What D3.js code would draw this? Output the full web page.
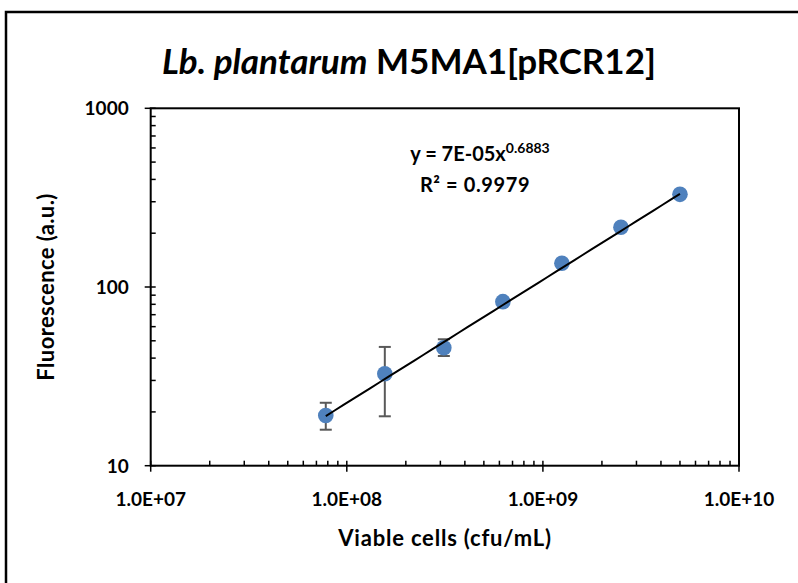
<!DOCTYPE html>
<html>
<head>
<meta charset="utf-8">
<script src="https://cdn.jsdelivr.net/npm/d3@7"></script>
<style>
  html, body { margin: 0; padding: 0; background: #fff; }
  svg { display: block; font-family: Lato, "Open Sans", sans-serif; }
</style>
</head>
<body>
<div id="chart"></div>
<script>
// --- data ---
const cells = [7.8125e7, 1.5625e8, 3.125e8, 6.25e8, 1.25e9, 2.5e9, 5e9];
const fluorescence = [19.1, 32.7, 45.7, 82.8, 135.8, 215.8, 330];
const errLow = [15.9, 18.9, 41.1, null, null, null, null];
const errHigh = [22.5, 46.2, 51.0, null, null, null, null];
const xTicks = [1e7, 1e8, 1e9, 1e10];
const xTickLabels = ['1.0E+07', '1.0E+08', '1.0E+09', '1.0E+10'];
const yTicks = [10, 100, 1000];
const yTickLabels = ['10', '100', '1000'];
// power trendline y = a * x^b
const trendCoef = [7e-5, 0.6883];
const r2 = 0.9979;

const width = 798, height = 583;
const plot = { left: 150.7, right: 739, top: 108.3, bottom: 465.7 };

const svg = d3.select('#chart').append('svg')
  .attr('width', width)
  .attr('height', height);

// outer chart border (right/bottom edges fall outside the picture)
svg.append('rect')
  .attr('x', 6).attr('y', 12)
  .attr('width', 820).attr('height', 600)
  .attr('fill', 'none').attr('stroke', '#000').attr('stroke-width', 2.5);

const x = d3.scaleLog().domain([1e7, 1e10]).range([plot.left, plot.right]);
const y = d3.scaleLog().domain([10, 1000]).range([plot.bottom, plot.top]);

// plot area frame
svg.append('rect')
  .attr('x', plot.left).attr('y', plot.top)
  .attr('width', plot.right - plot.left).attr('height', plot.bottom - plot.top)
  .attr('fill', 'none').attr('stroke', '#000').attr('stroke-width', 2);

// minor ticks (inside) and major ticks (crossing)
const xMinor = [];
for (let d = 1e7; d < 1e10; d *= 10) for (let k = 2; k <= 9; k++) xMinor.push(d * k);
const yMinor = [];
for (let d = 10; d < 1000; d *= 10) for (let k = 2; k <= 9; k++) yMinor.push(d * k);

const ticks = svg.append('g').attr('stroke', '#000').attr('stroke-width', 1.5);
ticks.selectAll('.xmin').data(xMinor).join('line')
  .attr('x1', d => x(d)).attr('x2', d => x(d))
  .attr('y1', plot.bottom).attr('y2', plot.bottom - 5);
ticks.selectAll('.xmaj').data(xTicks).join('line')
  .attr('x1', d => x(d)).attr('x2', d => x(d))
  .attr('y1', plot.bottom - 5).attr('y2', plot.bottom + 6);
ticks.selectAll('.ymin').data(yMinor).join('line')
  .attr('y1', d => y(d)).attr('y2', d => y(d))
  .attr('x1', plot.left).attr('x2', plot.left + 5);
ticks.selectAll('.ymaj').data(yTicks).join('line')
  .attr('y1', d => y(d)).attr('y2', d => y(d))
  .attr('x1', plot.left - 6).attr('x2', plot.left + 5);

// tick labels
svg.append('g').selectAll('text').data(xTicks).join('text')
  .attr('x', d => x(d)).attr('y', plot.bottom + 40)
  .attr('text-anchor', 'middle')
  .attr('font-size', 19).attr('font-weight', 'bold')
  .text((d, i) => xTickLabels[i]);

svg.append('g').selectAll('text').data(yTicks).join('text')
  .attr('x', plot.left - 22).attr('y', d => y(d) + 7)
  .attr('text-anchor', 'end')
  .attr('font-size', 19).attr('font-weight', 'bold')
  .text((d, i) => yTickLabels[i]);

// axis titles
svg.append('text')
  .attr('x', 445).attr('y', 546)
  .attr('text-anchor', 'middle')
  .attr('font-size', 22).attr('font-weight', 'bold')
  .attr('letter-spacing', 0.8)
  .text('Viable cells (cfu/mL)');

svg.append('text')
  .attr('transform', `translate(54,${(plot.top + plot.bottom) / 2}) rotate(-90)`)
  .attr('text-anchor', 'middle')
  .attr('font-size', 22).attr('font-weight', 'bold')
  .attr('letter-spacing', 0.4)
  .text('Fluorescence (a.u.)');

// title
const title = svg.append('text')
  .attr('x', 409).attr('y', 74)
  .attr('text-anchor', 'middle')
  .attr('font-size', 35).attr('font-weight', 'bold');
title.append('tspan').attr('font-style', 'italic').text('Lb. plantarum');
title.append('tspan').text(' M5MA1[pRCR12]');

// error bars
const errIdx = d3.range(cells.length).filter(i => errLow[i] != null);
const eb = svg.append('g').attr('stroke', '#595959').attr('stroke-width', 2);
eb.selectAll('.v').data(errIdx).join('line')
  .attr('x1', i => x(cells[i])).attr('x2', i => x(cells[i]))
  .attr('y1', i => y(errLow[i])).attr('y2', i => y(errHigh[i]));
eb.selectAll('.lo').data(errIdx).join('line')
  .attr('x1', i => x(cells[i]) - 6).attr('x2', i => x(cells[i]) + 6)
  .attr('y1', i => y(errLow[i])).attr('y2', i => y(errLow[i]));
eb.selectAll('.hi').data(errIdx).join('line')
  .attr('x1', i => x(cells[i]) - 6).attr('x2', i => x(cells[i]) + 6)
  .attr('y1', i => y(errHigh[i])).attr('y2', i => y(errHigh[i]));

// points
svg.append('g').selectAll('circle').data(cells).join('circle')
  .attr('cx', d => x(d))
  .attr('cy', (d, i) => y(fluorescence[i]))
  .attr('r', 7.8)
  .attr('fill', '#4f81bd');

// trendline
const xs = d3.range(0, 41).map(k => Math.exp(Math.log(cells[0]) + k / 40 * (Math.log(cells[cells.length - 1]) - Math.log(cells[0]))));
svg.append('path')
  .datum(xs)
  .attr('fill', 'none').attr('stroke', '#000').attr('stroke-width', 2)
  .attr('d', d3.line().x(d => x(d)).y(d => y(trendCoef[0] * Math.pow(d, trendCoef[1]))));

// equation label
const eq = svg.append('text')
  .attr('x', 480).attr('y', 161)
  .attr('text-anchor', 'middle')
  .attr('font-size', 20).attr('font-weight', 'bold');
eq.append('tspan').text('y = 7E-05x');
eq.append('tspan').attr('font-size', 14).attr('dy', -8).text(trendCoef[1]);

svg.append('text')
  .attr('x', 475).attr('y', 192)
  .attr('text-anchor', 'middle')
  .attr('font-size', 20).attr('font-weight', 'bold')
  .attr('letter-spacing', 0.6)
  .text('R² = ' + r2);
</script>
</body>
</html>
